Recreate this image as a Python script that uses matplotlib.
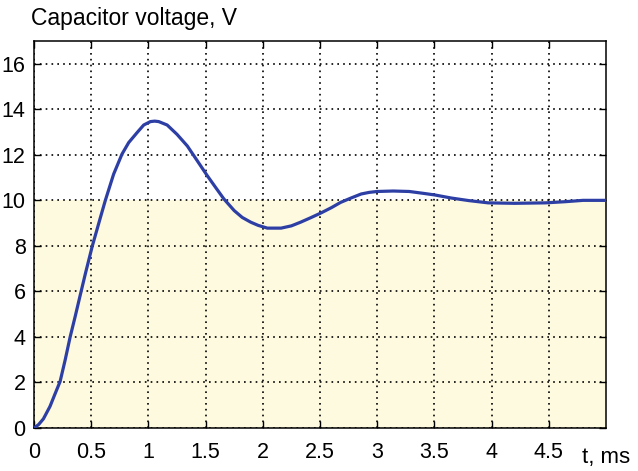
import matplotlib
matplotlib.use("Agg")
import matplotlib.pyplot as plt

plt.rcParams['font.family'] = ['Liberation Sans', 'DejaVu Sans']

# Data
t_ms = [0.0, 0.04, 0.082, 0.14, 0.184, 0.228, 0.272, 0.316, 0.36, 0.4, 0.45, 0.51,
        0.579, 0.623, 0.696, 0.769, 0.828, 0.9, 0.959, 1.018, 1.055, 1.09, 1.164,
        1.25, 1.34, 1.427, 1.515, 1.59, 1.66, 1.75, 1.82, 1.895, 1.96, 2.04, 2.16,
        2.25, 2.33, 2.42, 2.51, 2.6, 2.68, 2.77, 2.86, 2.93, 3.0, 3.14, 3.28, 3.4,
        3.5, 3.65, 3.8, 3.97, 4.2, 4.47, 4.64, 4.8, 5.0]
voltage = [0.0, 0.15, 0.4, 0.95, 1.5, 2.04, 2.98, 4.0, 4.9, 5.75, 6.8, 8.0,
           9.22, 9.99, 11.15, 12.03, 12.54, 12.97, 13.31, 13.46, 13.48, 13.46, 13.31,
           12.9, 12.39, 11.74, 11.08, 10.55, 10.06, 9.55, 9.25, 9.04, 8.9, 8.78, 8.78,
           8.88, 9.04, 9.24, 9.45, 9.68, 9.91, 10.1, 10.28, 10.35, 10.39, 10.41, 10.39, 10.31,
           10.24, 10.1, 9.99, 9.89, 9.87, 9.89, 9.94, 10.0, 10.0]
steady_level = 10
x_ticks = [0, 0.5, 1, 1.5, 2, 2.5, 3, 3.5, 4, 4.5]
x_labels = ['0', '0.5', '1', '1.5', '2', '2.5', '3', '3.5', '4', '4.5']
y_ticks = [0, 2, 4, 6, 8, 10, 12, 14, 16]
title = 'Capacitor voltage, V'
x_unit = 't, ms'

W, H = 638, 471
fig = plt.figure(figsize=(W / 100, H / 100), dpi=100)
ax = fig.add_axes([34 / W, (H - 428) / H, 572 / W, 387 / H])

ax.set_xlim(0, 5)
ax.set_ylim(0, 17)
ax.fill_between([0, 5], 0, steady_level, color='#fefadf', zorder=0, linewidth=0)
ax.plot(t_ms, voltage, color='#2d3fa5', linewidth=2.3, zorder=3,
        solid_capstyle='round', solid_joinstyle='round')

ax.set_xticks(x_ticks)
ax.set_xticklabels(x_labels)
ax.set_yticks(y_ticks)
ax.grid(True, color='black', linestyle=(0, (1, 2.5)), linewidth=1.2)
ax.set_axisbelow(False)
ax.tick_params(axis='both', direction='in', length=5, width=1, top=True, right=True,
               labelsize=15.5)
ax.tick_params(axis='x', pad=10)
ax.tick_params(axis='y', pad=6)
for s in ax.spines.values():
    s.set_linewidth(1.1)

fig.text(31 / W, (H - 25) / H, title, fontsize=16.5, ha='left', va='baseline')
fig.text(582 / W, (H - 463) / H, x_unit, fontsize=16, ha='left', va='baseline')

fig.savefig('out.png', dpi=100)
